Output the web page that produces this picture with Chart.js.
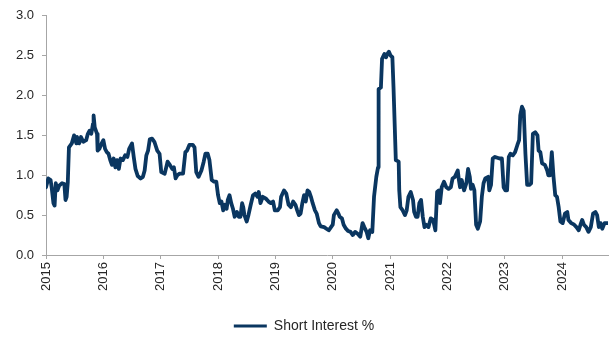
<!DOCTYPE html>
<html>
<head>
<meta charset="utf-8">
<script src="https://cdn.jsdelivr.net/npm/chart.js@4/dist/chart.umd.min.js"></script>
<style>
  html, body { margin: 0; padding: 0; background: #ffffff; }
  canvas { display: block; }
</style>
</head>
<body>
<canvas id="chart" width="615" height="343"></canvas>
<script>
// Observation dates as decimal years
const dates = [
  2015.00, 2015.04, 2015.08, 2015.10, 2015.13, 2015.15, 2015.17, 2015.20, 2015.23, 2015.28,
  2015.32, 2015.34, 2015.36, 2015.38, 2015.40, 2015.45, 2015.49, 2015.53, 2015.54, 2015.58,
  2015.61, 2015.65, 2015.70, 2015.73, 2015.76, 2015.79, 2015.82, 2015.83, 2015.85, 2015.89,
  2015.90, 2015.93, 2015.97, 2016.00, 2016.03, 2016.06, 2016.09, 2016.12, 2016.15, 2016.18,
  2016.21, 2016.24, 2016.27, 2016.30, 2016.34, 2016.38, 2016.42, 2016.45, 2016.50, 2016.53,
  2016.56, 2016.60, 2016.65, 2016.69, 2016.72, 2016.75, 2016.78, 2016.81, 2016.85, 2016.89,
  2016.94, 2016.98, 2017.01, 2017.07, 2017.12, 2017.16, 2017.20, 2017.23, 2017.26, 2017.29,
  2017.33, 2017.39, 2017.43, 2017.46, 2017.50, 2017.56, 2017.59, 2017.62, 2017.66, 2017.71,
  2017.75, 2017.78, 2017.82, 2017.85, 2017.89, 2017.93, 2017.97, 2018.00, 2018.03, 2018.06,
  2018.09, 2018.12, 2018.15, 2018.17, 2018.20, 2018.23, 2018.26, 2018.29, 2018.33, 2018.36,
  2018.39, 2018.42, 2018.44, 2018.46, 2018.50, 2018.53, 2018.57, 2018.61, 2018.65, 2018.69,
  2018.71, 2018.74, 2018.78, 2018.83, 2018.88, 2018.92, 2018.96, 2018.99, 2019.04, 2019.08,
  2019.10, 2019.15, 2019.19, 2019.23, 2019.27, 2019.31, 2019.35, 2019.38, 2019.41, 2019.44,
  2019.47, 2019.50, 2019.53, 2019.56, 2019.59, 2019.62, 2019.65, 2019.69, 2019.72, 2019.76,
  2019.79, 2019.85, 2019.89, 2019.93, 2019.97, 2020.00, 2020.02, 2020.07, 2020.10, 2020.12,
  2020.16, 2020.19, 2020.23, 2020.27, 2020.31, 2020.35, 2020.39, 2020.43, 2020.48, 2020.52,
  2020.55, 2020.59, 2020.62, 2020.65, 2020.69, 2020.72, 2020.76, 2020.79, 2020.80, 2020.84,
  2020.86, 2020.90, 2020.93, 2020.95, 2020.98, 2021.01, 2021.04, 2021.06, 2021.10, 2021.15,
  2021.16, 2021.18, 2021.22, 2021.26, 2021.29, 2021.32, 2021.36, 2021.40, 2021.42, 2021.45,
  2021.48, 2021.51, 2021.54, 2021.57, 2021.60, 2021.63, 2021.67, 2021.71, 2021.75, 2021.79,
  2021.82, 2021.85, 2021.87, 2021.90, 2021.94, 2021.98, 2022.02, 2022.06, 2022.09, 2022.13,
  2022.18, 2022.20, 2022.22, 2022.25, 2022.29, 2022.33, 2022.36, 2022.39, 2022.41, 2022.44,
  2022.47, 2022.50, 2022.53, 2022.57, 2022.60, 2022.63, 2022.66, 2022.71, 2022.73, 2022.76,
  2022.79, 2022.83, 2022.91, 2022.95, 2022.98, 2023.01, 2023.04, 2023.07, 2023.10, 2023.14,
  2023.18, 2023.22, 2023.25, 2023.27, 2023.30, 2023.33, 2023.36, 2023.39, 2023.43, 2023.46,
  2023.49, 2023.53, 2023.57, 2023.59, 2023.62, 2023.65, 2023.70, 2023.74, 2023.76, 2023.79,
  2023.82, 2023.85, 2023.88, 2023.91, 2023.94, 2023.97, 2024.01, 2024.05, 2024.09, 2024.11,
  2024.16, 2024.21, 2024.25, 2024.29, 2024.32, 2024.35, 2024.38, 2024.42, 2024.46, 2024.50,
  2024.54, 2024.58, 2024.61, 2024.64, 2024.67, 2024.70, 2024.74, 2024.79
];

// Short interest, % of float
const shortInterest = [
  0.85, 0.96, 0.94, 0.84, 0.65, 0.62, 0.90, 0.81, 0.87, 0.90,
  0.89, 0.69, 0.73, 0.91, 1.35, 1.40, 1.50, 1.40, 1.48, 1.40,
  1.48, 1.42, 1.44, 1.52, 1.56, 1.52, 1.65, 1.75, 1.60, 1.52,
  1.31, 1.33, 1.40, 1.44, 1.33, 1.29, 1.27, 1.19, 1.13, 1.21,
  1.10, 1.19, 1.08, 1.21, 1.19, 1.25, 1.23, 1.33, 1.40, 1.23,
  1.08, 0.99, 0.96, 0.98, 1.06, 1.25, 1.31, 1.45, 1.46, 1.42,
  1.31, 1.27, 1.04, 1.02, 1.17, 1.13, 1.08, 1.10, 0.96, 1.00,
  1.02, 1.02, 1.29, 1.31, 1.38, 1.38, 1.35, 1.04, 0.98, 1.06,
  1.17, 1.27, 1.27, 1.19, 0.94, 0.92, 0.92, 0.75, 0.65, 0.67,
  0.56, 0.63, 0.58, 0.69, 0.75, 0.65, 0.58, 0.48, 0.54, 0.48,
  0.48, 0.65, 0.60, 0.50, 0.42, 0.50, 0.63, 0.75, 0.77, 0.73,
  0.79, 0.65, 0.73, 0.71, 0.67, 0.65, 0.67, 0.56, 0.56, 0.60,
  0.73, 0.81, 0.77, 0.63, 0.60, 0.67, 0.63, 0.56, 0.50, 0.52,
  0.65, 0.75, 0.67, 0.81, 0.79, 0.73, 0.65, 0.56, 0.52, 0.40,
  0.36, 0.35, 0.33, 0.31, 0.35, 0.38, 0.50, 0.56, 0.52, 0.48,
  0.46, 0.38, 0.33, 0.30, 0.29, 0.25, 0.29, 0.27, 0.23, 0.40,
  0.35, 0.29, 0.21, 0.31, 0.29, 0.73, 0.98, 1.10, 2.08, 2.10,
  2.46, 2.52, 2.48, 2.52, 2.55, 2.50, 2.48, 2.10, 1.19, 1.17,
  0.81, 0.60, 0.56, 0.50, 0.56, 0.73, 0.79, 0.69, 0.54, 0.48,
  0.48, 0.65, 0.69, 0.48, 0.35, 0.38, 0.35, 0.46, 0.44, 0.31,
  0.79, 0.81, 0.65, 0.85, 0.92, 0.85, 0.83, 0.85, 0.96, 0.98,
  1.06, 0.94, 0.85, 0.94, 0.81, 0.90, 1.08, 0.98, 0.83, 0.88,
  0.81, 0.38, 0.33, 0.42, 0.73, 0.90, 0.96, 0.98, 0.81, 0.88,
  1.21, 1.23, 1.21, 1.21, 0.85, 0.81, 0.81, 1.23, 1.27, 1.25,
  1.29, 1.38, 1.44, 1.75, 1.86, 1.81, 1.27, 0.88, 0.88, 0.90,
  1.52, 1.54, 1.50, 1.31, 1.29, 1.15, 1.13, 1.06, 1.00, 1.00,
  1.29, 0.98, 0.75, 0.73, 0.60, 0.42, 0.40, 0.52, 0.54, 0.44,
  0.40, 0.38, 0.35, 0.31, 0.38, 0.44, 0.38, 0.35, 0.29, 0.35,
  0.52, 0.54, 0.50, 0.35, 0.40, 0.33, 0.40, 0.40
];

// Axis tick labels
const yearTicks = [2015, 2016, 2017, 2018, 2019, 2020, 2021, 2022, 2023, 2024];
const valueTicks = [0, 0.5, 1.0, 1.5, 2.0, 2.5, 3.0];

const seriesLabel = 'Short Interest %';

const NAVY = '#0a3660';
const AXIS = '#a6a6a6';
const TEXT = '#262626';
const FONT = "'Liberation Sans', Arial, sans-serif";

const points = dates.map((d, i) => ({ x: d, y: shortInterest[i] }));

new Chart(document.getElementById('chart'), {
  type: 'line',
  data: {
    datasets: [{
      label: seriesLabel,
      data: points,
      borderColor: NAVY,
      backgroundColor: NAVY,
      borderWidth: 3.8,
      borderJoinStyle: 'round',
      borderCapStyle: 'round',
      pointRadius: 0,
      tension: 0,
      fill: false
    }]
  },
  options: {
    responsive: false,
    animation: false,
    layout: { padding: { top: 15, right: 7, left: 0, bottom: 0 } },
    plugins: {
      legend: {
        position: 'bottom',
        labels: {
          color: TEXT,
          font: { family: FONT, size: 14 },
          boxWidth: 33,
          boxHeight: 3,
          padding: 10,
          generateLabels: (chart) =>
            Chart.defaults.plugins.legend.labels.generateLabels(chart).map(item => ({
              ...item, lineWidth: 0, fillStyle: NAVY
            }))
        }
      },
      tooltip: { enabled: false }
    },
    scales: {
      x: {
        type: 'linear',
        min: 2015,
        max: 2024.8,
        afterBuildTicks: (scale) => { scale.ticks = yearTicks.map(v => ({ value: v })); },
        afterFit: (scale) => { scale.height = 54; },
        ticks: {
          color: TEXT,
          font: { family: FONT, size: 13 },
          minRotation: 90,
          maxRotation: 90,
          padding: 3,
          autoSkip: false,
          callback: (v) => String(v)
        },
        grid: {
          display: true,
          drawOnChartArea: false,
          drawTicks: true,
          tickLength: 4,
          color: AXIS
        },
        border: { display: true, color: AXIS, width: 1 }
      },
      y: {
        type: 'linear',
        min: 0,
        max: 3,
        afterBuildTicks: (scale) => { scale.ticks = valueTicks.map(v => ({ value: v })); },
        afterFit: (scale) => { scale.width = 46; },
        ticks: {
          color: TEXT,
          font: { family: FONT, size: 13 },
          padding: 8,
          callback: (v) => Number(v).toFixed(1)
        },
        grid: {
          display: true,
          drawOnChartArea: false,
          drawTicks: true,
          tickLength: 4,
          color: AXIS
        },
        border: { display: true, color: AXIS, width: 1 }
      }
    }
  }
});
</script>
</body>
</html>
